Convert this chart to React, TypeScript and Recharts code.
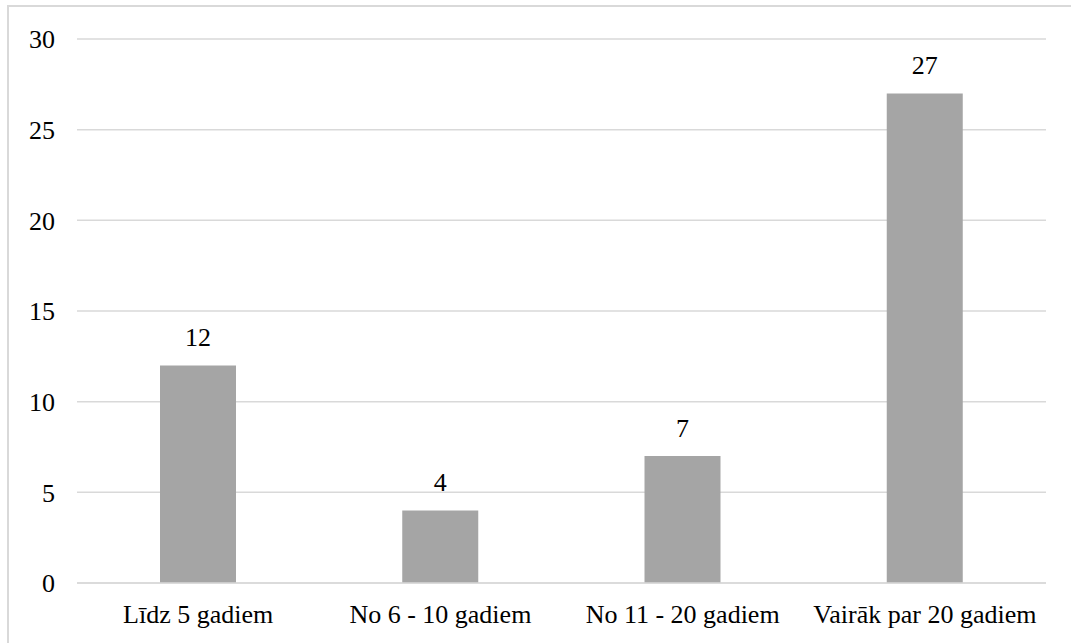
import { BarChart, Bar, XAxis, YAxis, CartesianGrid, LabelList } from 'recharts';

const categories = ['Līdz 5 gadiem', 'No 6 - 10 gadiem', 'No 11 - 20 gadiem', 'Vairāk par 20 gadiem'];
const counts = [12, 4, 7, 27];
const yTicks = [0, 5, 10, 15, 20, 25, 30];

const chartData = categories.map((name, i) => ({ name, value: counts[i] }));

const FONT = "'Liberation Serif', 'Times New Roman', 'DejaVu Serif'";

export default function App() {
  return (
    <div
      style={{
        position: 'absolute',
        left: 0,
        top: 0,
        width: 1071,
        height: 643,
        background: '#fff',
      }}
    >
      {/* frame: only top and left edges are visible */}
      <div
        style={{
          position: 'absolute',
          left: 7,
          top: 5,
          right: 0,
          bottom: 0,
          borderTop: '2px solid #d9d9d9',
          borderLeft: '2px solid #d9d9d9',
        }}
      />
      <div style={{ position: 'absolute', left: 0, top: 0 }}>
        <BarChart
          width={1071}
          height={643}
          data={chartData}
          margin={{ top: 39, right: 25, left: 0, bottom: 0 }}
        >
          <CartesianGrid vertical={false} stroke="#d9d9d9" strokeWidth={1.5} />
          <XAxis
            dataKey="name"
            height={60}
            tickLine={false}
            tickSize={0}
            tickMargin={22}
            axisLine={{ stroke: '#d9d9d9', strokeWidth: 1.5 }}
            tick={{ fontSize: 26, fill: '#000', fontFamily: FONT }}
            interval={0}
          />
          <YAxis
            width={77}
            domain={[0, 30]}
            ticks={yTicks}
            axisLine={false}
            tickLine={false}
            tickSize={0}
            tickMargin={22}
            tick={{ fontSize: 26, fill: '#000', fontFamily: FONT }}
          />
          <Bar dataKey="value" fill="#a5a5a5" barSize={76} isAnimationActive={false}>
            <LabelList
              dataKey="value"
              position="top"
              offset={19}
              fill="#000"
              fontSize={26}
              fontFamily={FONT}
            />
          </Bar>
        </BarChart>
      </div>
    </div>
  );
}
